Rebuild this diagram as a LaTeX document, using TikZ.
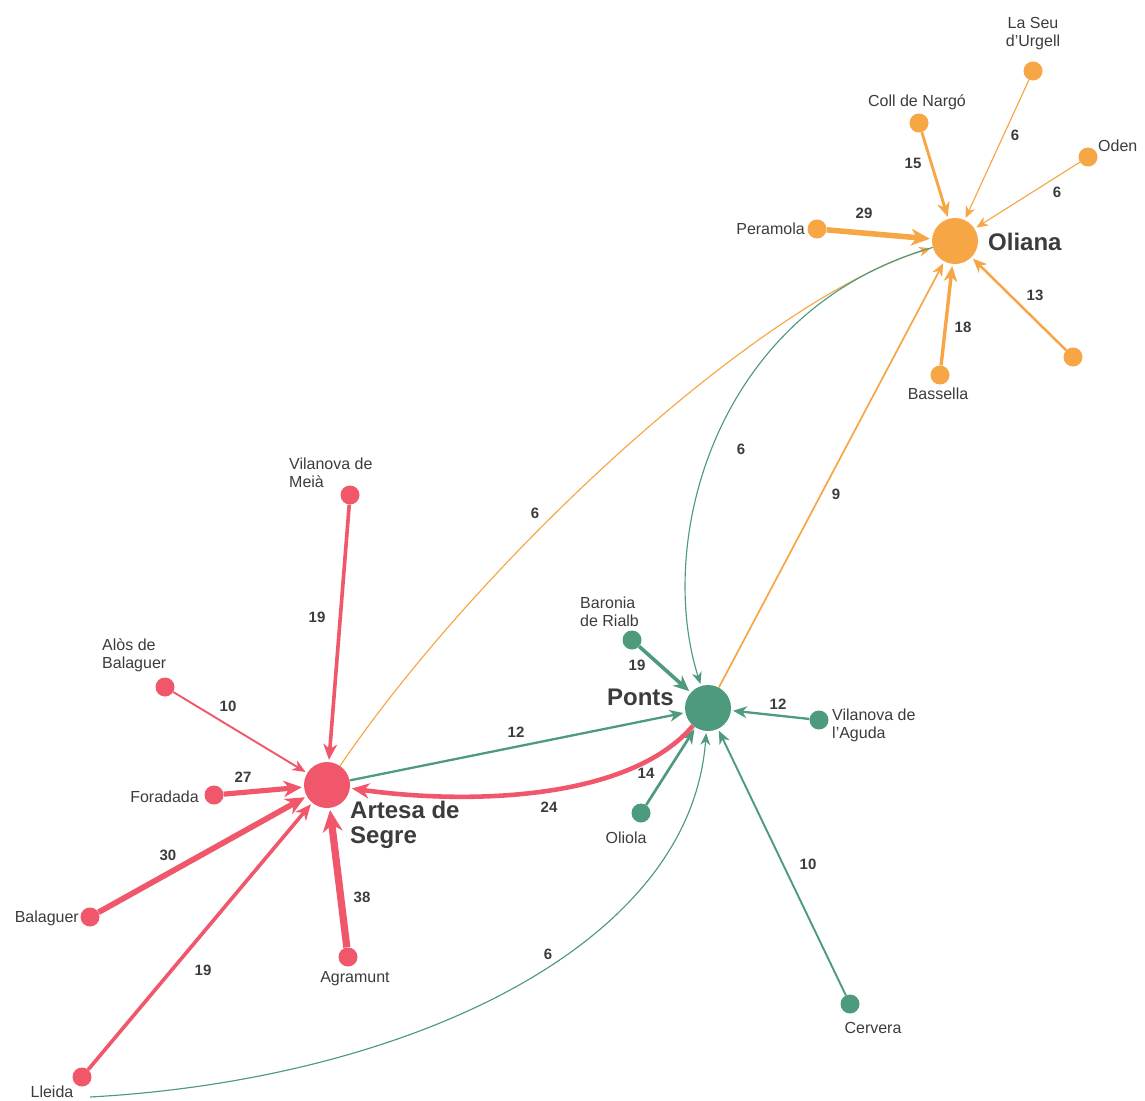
\documentclass[tikz,border=0pt]{standalone}
\usepackage{fontspec}
\setmainfont{Liberation Sans}
\usetikzlibrary{arrows.meta}
\definecolor{cOr}{HTML}{F7A646}
\definecolor{cRd}{HTML}{F0576B}
\definecolor{cTl}{HTML}{4E9A7C}
\definecolor{cTx}{HTML}{3C3C3C}
\begin{document}
\begin{tikzpicture}[x=1pt,y=-1pt,
  hub/.style={circle, fill=#1, minimum size=46pt, inner sep=0pt},
  leaf/.style={circle, fill=#1, minimum size=19pt, inner sep=0pt},
  lab/.style={font=\fontsize{16}{18}\selectfont, text=cTx, inner sep=0pt, align=left},
  hublab/.style={font=\bfseries\fontsize{24}{25}\selectfont, text=cTx, inner sep=0pt, align=left},
  num/.style={font=\bfseries\fontsize{15}{16}\selectfont, text=cTx, inner sep=0pt},
  flow/.style={draw=#1, -{Stealth[length=10pt 1.6, width=8pt 1.6, inset=3pt 0.5]}, shorten >=2pt},
  wt/.style={line width={#1*0.19pt}}]
\useasboundingbox (0,0) rectangle (1145,1100);
\fill[white] (0,0) rectangle (1145,1100);

% hubs
\node[hub=cOr] (oliana) at (955,241) {};
\node[hub=cTl] (ponts) at (708,708) {};
\node[hub=cRd] (artesa) at (327,785) {};

% Oliana cluster
\node[leaf=cOr] (peramola) at (817,229) {};
\node[leaf=cOr] (coll) at (919,123) {};
\node[leaf=cOr] (seu) at (1033,71) {};
\node[leaf=cOr] (oden) at (1088,157) {};
\node[leaf=cOr] (anon) at (1073,357) {};
\node[leaf=cOr] (bassella) at (940,375) {};

% Ponts cluster
\node[leaf=cTl] (baronia) at (632,640) {};
\node[leaf=cTl] (aguda) at (819,720) {};
\node[leaf=cTl] (oliola) at (641,813) {};
\node[leaf=cTl] (cervera) at (850,1004) {};

% Artesa cluster
\node[leaf=cRd] (meia) at (350,495) {};
\node[leaf=cRd] (alos) at (165,687) {};
\node[leaf=cRd] (foradada) at (214,795) {};
\node[leaf=cRd] (balaguer) at (90,917) {};
\node[leaf=cRd] (lleida) at (82,1077) {};
\node[leaf=cRd] (agramunt) at (348,957) {};
\coordinate (lleidaTail) at (90,1097);

% place labels
\node[hublab, anchor=west] (tOliana) at (988,242) {Oliana};
\node[hublab, anchor=east] (tPonts) at (674,697) {Ponts};
\node[hublab, anchor=west] (tArtesa) at (350,825) {Artesa de\\Segre};

\node[lab, anchor=east] (tPeramola) at (805,229) {Peramola};
\node[lab] (tColl) at (917,102) {Coll de Nargó};
\node[lab, align=center] (tSeu) at (1033,34) {La Seu\\d'Urgell};
\node[lab, anchor=west] (tOden) at (1098,146) {Oden};
\node[lab] (tBassella) at (938,394) {Bassella};
\node[lab, anchor=west] (tBaronia) at (580,612) {Baronia\\de Rialb};
\node[lab, anchor=west] (tAguda) at (832,725) {Vilanova de\\l'Aguda};
\node[lab] (tOliola) at (626,838) {Oliola};
\node[lab] (tCervera) at (873,1028) {Cervera};
\node[lab, anchor=west] (tMeia) at (289,473) {Vilanova de\\Meià};
\node[lab, anchor=west] (tAlos) at (102,655) {Alòs de\\Balaguer};
\node[lab, anchor=east] (tForadada) at (199,797) {Foradada};
\node[lab, anchor=east] (tBalaguer) at (79,918) {Balaguer};
\node[lab] (tLleida) at (52,1092) {Lleida};
\node[lab] (tAgramunt) at (355,979) {Agramunt};

% flows into Oliana
\draw[flow=cOr, wt=29] (peramola) -- (oliana);
\draw[flow=cOr, wt=15] (coll) -- (oliana);
\draw[flow=cOr, wt=6] (seu) -- (oliana);
\draw[flow=cOr, wt=6] (oden) -- (oliana);
\draw[flow=cOr, wt=13] (anon) -- (oliana);
\draw[flow=cOr, wt=18] (bassella) -- (oliana);
\draw[flow=cOr, wt=6] (artesa) .. controls (480,560) and (760,300) .. (oliana);
\draw[flow=cOr, wt=9] (ponts) -- (oliana);

% flows into Ponts
\draw[flow=cTl, wt=6] (oliana) .. controls (715,310) and (655,540) .. (ponts);
\draw[flow=cTl, wt=19] (baronia) -- (ponts);
\draw[flow=cTl, wt=12] (aguda) -- (ponts);
\draw[flow=cTl, wt=14] (oliola) -- (ponts);
\draw[flow=cTl, wt=10] (cervera) -- (ponts);
\draw[flow=cTl, wt=12] (artesa) -- (ponts);
\draw[flow=cTl, wt=6] (lleidaTail) .. controls (400,1080) and (690,950) .. (ponts);

% flows into Artesa
\draw[flow=cRd, wt=24] (ponts) .. controls (630,800) and (470,805) .. (artesa);
\draw[flow=cRd, wt=19] (meia) -- (artesa);
\draw[flow=cRd, wt=10] (alos) -- (artesa);
\draw[flow=cRd, wt=27] (foradada) -- (artesa);
\draw[flow=cRd, wt=30] (balaguer) -- (artesa);
\draw[flow=cRd, wt=19] (lleida) -- (artesa);
\draw[flow=cRd, wt=38] (agramunt) -- (artesa);

% flow values
\node[num] (v1) at (864,213) {29};
\node[num] (v2) at (913,163) {15};
\node[num] (v3) at (1015,135) {6};
\node[num] (v4) at (1057,192) {6};
\node[num] (v5) at (1035,295) {13};
\node[num] (v6) at (963,327) {18};
\node[num] (v7) at (535,513) {6};
\node[num] (v8) at (741,449) {6};
\node[num] (v9) at (836,494) {9};
\node[num] (v10) at (637,665) {19};
\node[num] (v11) at (778,704) {12};
\node[num] (v12) at (646,773) {14};
\node[num] (v13) at (808,864) {10};
\node[num] (v14) at (548,954) {6};
\node[num] (v15) at (516,732) {12};
\node[num] (v16) at (549,807) {24};
\node[num] (v17) at (317,617) {19};
\node[num] (v18) at (228,706) {10};
\node[num] (v19) at (243,777) {27};
\node[num] (v20) at (168,855) {30};
\node[num] (v21) at (203,970) {19};
\node[num] (v22) at (362,897) {38};
\end{tikzpicture}
\end{document}
